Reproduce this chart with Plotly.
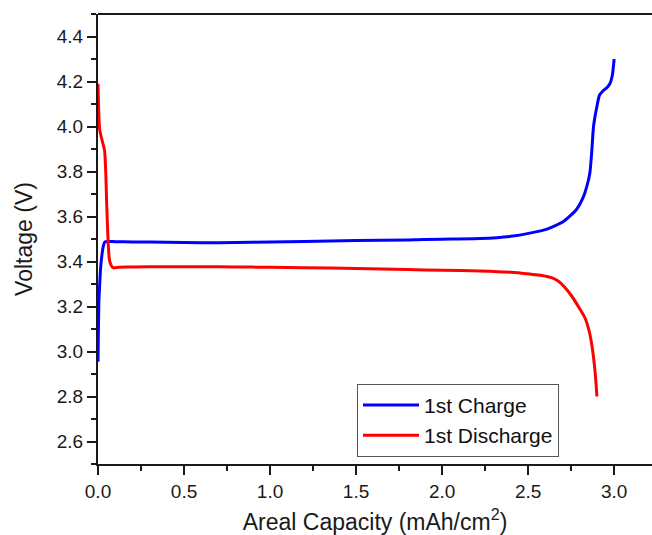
import plotly.graph_objects as go

# 1st Charge (blue)
charge_cap = [0.0, 0.002, 0.005, 0.01, 0.015, 0.02, 0.03, 0.04, 0.06, 0.1, 0.2, 0.4, 0.6, 0.8, 1.0, 1.2, 1.5,
              1.8, 2.0, 2.22, 2.4, 2.51, 2.61, 2.705, 2.78, 2.82, 2.85, 2.86, 2.87, 2.88, 2.9,
              2.915, 2.935, 2.957, 2.975, 2.99, 3.0]
charge_v = [2.955, 3.08, 3.22, 3.30, 3.37, 3.41, 3.465, 3.487, 3.489, 3.488, 3.487, 3.486, 3.483, 3.485, 3.487, 3.489, 3.493,
            3.496, 3.499, 3.502, 3.512, 3.526, 3.544, 3.578, 3.63, 3.685, 3.76, 3.80, 3.89, 4.0, 4.09,
            4.14, 4.158, 4.172, 4.19, 4.23, 4.30]

# 1st Discharge (red)
discharge_cap = [0.0, 0.003, 0.006, 0.01, 0.02, 0.03, 0.038, 0.045, 0.05, 0.055, 0.06, 0.066, 0.075, 0.087, 0.12, 0.2,
                 0.4, 0.6, 0.8, 1.0, 1.2, 1.5, 1.8, 2.0, 2.22, 2.4, 2.51, 2.58, 2.64, 2.68, 2.71, 2.75, 2.8, 2.83,
                 2.855, 2.872, 2.89, 2.9]
discharge_v = [4.19, 4.10, 4.03, 3.985, 3.95, 3.92, 3.895, 3.80, 3.67, 3.56, 3.47, 3.41, 3.385, 3.373, 3.374, 3.376,
               3.377, 3.377, 3.376, 3.374, 3.372, 3.369, 3.364, 3.361, 3.358, 3.352, 3.344, 3.338, 3.327, 3.31, 3.288,
               3.25, 3.19, 3.15, 3.09, 3.02, 2.904, 2.80]

x_ticks = [0.0, 0.5, 1.0, 1.5, 2.0, 2.5, 3.0]
y_ticks = [2.6, 2.8, 3.0, 3.2, 3.4, 3.6, 3.8, 4.0, 4.2, 4.4]

fig = go.Figure()
fig.add_trace(go.Scatter(x=charge_cap, y=charge_v, mode="lines", name="1st Charge",
                         line=dict(color="#0000ff", width=3, shape="spline", smoothing=0.5)))
fig.add_trace(go.Scatter(x=discharge_cap, y=discharge_v, mode="lines", name="1st Discharge",
                         line=dict(color="#ff0000", width=3, shape="spline", smoothing=0.5)))

font_family = "Liberation Sans, Arial, sans-serif"
axis_color = "#1a1a1a"
fig.update_layout(
    width=652, height=535,
    margin=dict(l=98, r=0, t=14, b=71),
    paper_bgcolor="white", plot_bgcolor="white",
    font=dict(family=font_family, color="#1a1a1a", size=19),
    showlegend=True,
    legend=dict(x=0.4675, y=0.016, xanchor="left", yanchor="bottom",
                bgcolor="white", bordercolor="#555555", borderwidth=1,
                font=dict(size=21, color="#111111"), tracegroupgap=0,
                itemwidth=56),
    xaxis=dict(range=[0, 3.22], tickvals=x_ticks, ticktext=[f"{v:.1f}" for v in x_ticks],
               ticks="outside", ticklen=9, tickwidth=2, tickcolor=axis_color,
               minor=dict(ticks="outside", ticklen=5, dtick=0.25, tick0=0, tickcolor=axis_color, tickwidth=2),
               showline=True, linecolor=axis_color, linewidth=2, mirror=False,
               showgrid=False, zeroline=False,
               title=dict(text="Areal Capacity (mAh/cm<sup>2</sup>)", font=dict(size=23), standoff=14),
               tickfont=dict(size=19)),
    yaxis=dict(range=[2.5, 4.5], tickvals=y_ticks, ticktext=[f"{v:.1f}" for v in y_ticks],
               ticks="outside", ticklen=9, tickwidth=2, tickcolor=axis_color,
               minor=dict(ticks="outside", ticklen=5, dtick=0.1, tick0=2.5, tickcolor=axis_color, tickwidth=2),
               showline=True, linecolor=axis_color, linewidth=2, mirror=False,
               showgrid=False, zeroline=False,
               title=dict(text="Voltage (V)", font=dict(size=23), standoff=18),
               tickfont=dict(size=19)),
    shapes=[dict(type="line", xref="paper", yref="paper", x0=0, x1=1, y0=1, y1=1,
                 line=dict(color=axis_color, width=2))],
)

fig.write_html("out.html", config={"displayModeBar": False},
               post_script="document.body.style.margin='0';document.body.style.overflow='hidden';")
